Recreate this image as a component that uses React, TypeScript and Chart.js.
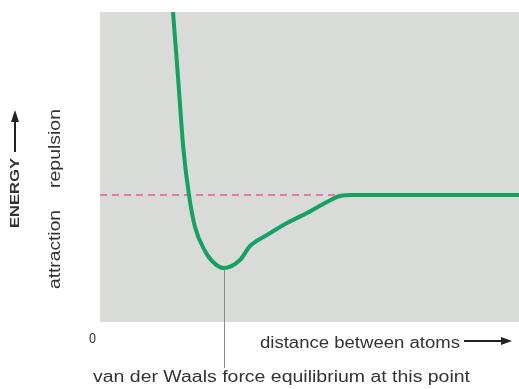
import React, { useEffect, useRef } from "react";
import { Chart, registerables } from "chart.js";

Chart.register(...registerables);

const distance = [73, 78, 83.5, 89, 95, 105, 112, 123.5, 140, 150, 167, 187, 207, 227, 240, 253, 419];
const energy = [183, 118, 45, 0, -32, -56, -66, -73, -65, -51, -40, -28, -18, -7, -1, 0, 0];
const baselineX = [0, 419];
const baselineY = [0, 0];
const minIndex = 7;

const xLabel = "distance between atoms";
const yLabel = "ENERGY";
const upperLabel = "repulsion";
const lowerLabel = "attraction";
const originLabel = "0";
const noteLabel = "van der Waals force equilibrium at this point";

const TEXT = "#333333";
const FONT = "'Liberation Sans', Arial, sans-serif";

function fitText(ctx: CanvasRenderingContext2D, text: string, x: number, y: number, width: number) {
  const w = ctx.measureText(text).width;
  ctx.save();
  ctx.translate(x, y);
  ctx.scale(width / w, 1);
  ctx.fillText(text, 0, 0);
  ctx.restore();
}

const decor = {
  id: "decor",
  beforeDraw(chart: any) {
    const { ctx, chartArea } = chart;
    ctx.save();
    ctx.fillStyle = "#d8dbd8";
    ctx.fillRect(chartArea.left, chartArea.top, chartArea.right - chartArea.left, chartArea.bottom - chartArea.top);
    ctx.restore();
  },
  afterDraw(chart: any) {
    const { ctx } = chart;
    const xs = chart.scales.x;
    const ys = chart.scales.y;
    ctx.save();
    const mx = Math.round(xs.getPixelForValue(distance[minIndex])) + 0.5;
    const my = ys.getPixelForValue(energy[minIndex]) + 2;
    ctx.strokeStyle = "#8a8a8a";
    ctx.lineWidth = 1;
    ctx.beginPath();
    ctx.moveTo(mx, my);
    ctx.lineTo(mx, 368);
    ctx.stroke();

    ctx.fillStyle = TEXT;
    ctx.textBaseline = "alphabetic";
    ctx.textAlign = "left";
    ctx.font = `14px ${FONT}`;
    fitText(ctx, originLabel, 89, 343, 7);
    ctx.font = `16px ${FONT}`;
    fitText(ctx, xLabel, 260, 348, 200);
    fitText(ctx, noteLabel, 93, 382, 377);

    ctx.strokeStyle = "#222";
    ctx.fillStyle = "#222";
    ctx.lineWidth = 2;
    ctx.beginPath();
    ctx.moveTo(464, 341);
    ctx.lineTo(503, 341);
    ctx.stroke();
    ctx.beginPath();
    ctx.moveTo(512, 341);
    ctx.lineTo(501, 337);
    ctx.lineTo(501, 345);
    ctx.closePath();
    ctx.fill();

    ctx.fillStyle = TEXT;
    ctx.save();
    ctx.translate(19, 228);
    ctx.rotate(-Math.PI / 2);
    ctx.font = `bold 13px ${FONT}`;
    fitText(ctx, yLabel, 0, 0, 70);
    ctx.restore();

    ctx.save();
    ctx.translate(60, 188);
    ctx.rotate(-Math.PI / 2);
    ctx.font = `16px ${FONT}`;
    fitText(ctx, upperLabel, 0, 0, 79);
    ctx.restore();

    ctx.save();
    ctx.translate(60, 289);
    ctx.rotate(-Math.PI / 2);
    ctx.font = `16px ${FONT}`;
    fitText(ctx, lowerLabel, 0, 0, 79);
    ctx.restore();

    ctx.strokeStyle = "#222";
    ctx.fillStyle = "#222";
    ctx.lineWidth = 2;
    ctx.beginPath();
    ctx.moveTo(15, 152);
    ctx.lineTo(15, 120);
    ctx.stroke();
    ctx.beginPath();
    ctx.moveTo(15, 110);
    ctx.lineTo(11, 122);
    ctx.lineTo(19, 122);
    ctx.closePath();
    ctx.fill();
    ctx.restore();
  },
};

export default function App() {
  const ref = useRef<HTMLCanvasElement>(null);
  useEffect(() => {
    if (!ref.current) return;
    const chart = new Chart(ref.current, {
      type: "line",
      data: {
        datasets: [
          {
            data: distance.map((d, i) => ({ x: d, y: energy[i] })),
            borderColor: "#16a064",
            borderWidth: 4,
            pointRadius: 0,
            cubicInterpolationMode: "monotone",
            order: 0,
          },
          {
            data: baselineX.map((d, i) => ({ x: d, y: baselineY[i] })),
            borderColor: "#e65a9e",
            borderWidth: 1.5,
            borderDash: [7, 5],
            pointRadius: 0,
            order: 1,
          },
        ],
      },
      options: {
        responsive: false,
        animation: false,
        layout: { padding: { left: 100, top: 12, right: 0, bottom: 67 } },
        plugins: { legend: { display: false }, tooltip: { enabled: false } },
        scales: {
          x: { type: "linear", min: 0, max: 419, display: false },
          y: { type: "linear", min: -127, max: 183, display: false },
        },
      },
      plugins: [decor],
    });
    return () => chart.destroy();
  }, []);
  return (
    <div style={{ position: "fixed", left: 0, top: 0, width: 519, height: 389, background: "#fff" }}>
      <canvas ref={ref} width={519} height={389} />
    </div>
  );
}
